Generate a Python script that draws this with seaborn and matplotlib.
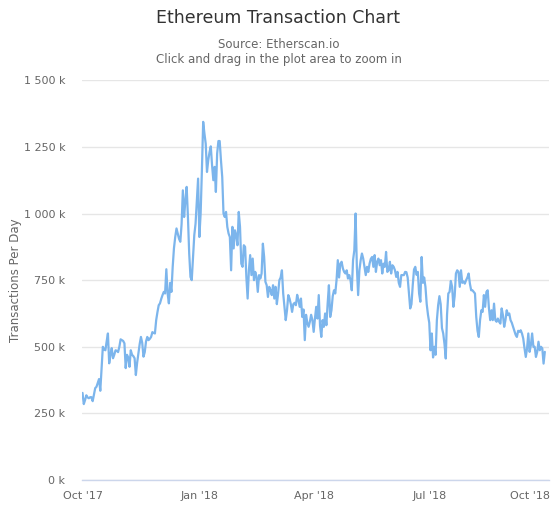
import pandas as pd
import numpy as np
import matplotlib
matplotlib.use('Agg')
import matplotlib.pyplot as plt
import matplotlib.transforms as mtransforms
import seaborn as sns

## Daily transactions (thousands), Oct 2017 - Sep 2018
start_date = '2017-10-01'
oct17 = [327, 285, 300, 318, 310, 307, 311, 311, 296, 320, 345, 350, 365, 379, 335, 420,
         500, 490, 487, 520, 550, 438, 470, 495, 457, 470, 487, 485, 480, 500, 528]
nov17 = [525, 522, 513, 420, 470, 460, 425, 487, 470, 465, 457, 394, 440, 475, 510,
         537, 515, 463, 480, 520, 537, 525, 530, 537, 555, 552, 550, 600, 630, 656]
dec17 = [663, 680, 694, 706, 700, 791, 700, 663, 740, 706, 800, 870, 912, 944, 925, 905,
         894, 960, 1087, 987, 1050, 1100, 987, 850, 762, 750, 837, 919, 962, 1050, 1131]
jan18 = [912, 1000, 1162, 1344, 1300, 1262, 1156, 1200, 1230, 1252, 1181, 1125, 1175, 1081,
         1225, 1272, 1272, 1200, 1137, 1000, 987, 1006, 950, 925, 912, 787, 950, 869, 937, 919, 881]
feb18 = [1006, 950, 812, 800, 881, 875, 762, 681, 787, 844, 769, 831, 750, 781,
         762, 706, 769, 756, 775, 887, 837, 744, 731, 687, 725, 712, 694, 731]
mar18 = [681, 725, 660, 700, 750, 760, 787, 700, 650, 600, 637, 694, 681, 660, 631, 660,
         665, 656, 695, 675, 650, 681, 612, 640, 525, 620, 590, 575, 594, 620, 600]
apr18 = [556, 606, 650, 606, 694, 580, 537, 600, 575, 625, 581, 662, 731, 612, 637,
         690, 712, 700, 750, 825, 760, 812, 819, 794, 781, 775, 787, 756, 769, 750]
may18 = [712, 825, 862, 1000, 800, 694, 787, 825, 850, 831, 800, 769, 800, 781, 812, 830,
         837, 800, 844, 781, 819, 831, 806, 825, 775, 812, 800, 856, 781, 787, 819]
jun18 = [775, 806, 800, 787, 762, 781, 740, 725, 769, 769, 769, 781, 780, 760, 700,
         644, 660, 731, 790, 800, 770, 781, 700, 669, 837, 740, 760, 725, 660, 620]
jul18 = [590, 487, 550, 460, 500, 470, 600, 656, 690, 660, 570, 550, 510, 456, 620, 700,
         706, 747, 725, 650, 690, 775, 787, 781, 725, 787, 740, 745, 737, 750, 760]
aug18 = [775, 737, 712, 712, 706, 700, 612, 560, 537, 600, 637, 631, 694, 650, 706, 712,
         644, 600, 637, 600, 662, 600, 594, 606, 594, 587, 644, 619, 575, 600, 637]
sep18 = [619, 625, 600, 590, 575, 560, 545, 537, 560, 556, 562, 550, 531, 494, 462,
         494, 550, 481, 506, 550, 500, 500, 462, 481, 519, 487, 500, 494, 437, 481]

tick_dates = ['2017-10-01', '2018-01-01', '2018-04-01', '2018-07-01', '2018-10-01']
tick_labels = ["Oct '17", "Jan '18", "Apr '18", "Jul '18", "Oct '18"]
y_ticks = [0, 250, 500, 750, 1000, 1250, 1500]

values = oct17 + nov17 + dec17 + jan18 + feb18 + mar18 + apr18 + may18 + jun18 + jul18 + aug18 + sep18
df = pd.DataFrame({'date': pd.date_range(start_date, periods=len(values), freq='D'),
                   'tx': values})

sns.set_style('white')
plt.rcParams['font.family'] = ['DejaVu Sans']

fig = plt.figure(figsize=(5.57, 5.08), dpi=100)
ax = fig.add_axes([0.147, 0.055, 0.838, 0.787])

sns.lineplot(data=df, x='date', y='tx', ax=ax, color='#7cb5ec', linewidth=1.6)

ax.set_ylim(0, 1500)
ax.set_yticks(y_ticks)
ax.set_yticklabels(['{:,} k'.format(v).replace(',', ' ') for v in y_ticks])
ax.set_xlim(pd.Timestamp('2017-09-30 12:00'), pd.Timestamp('2018-10-03'))
ax.set_xticks(pd.to_datetime(tick_dates))
ax.set_xticklabels(tick_labels)
ax.set_xlabel('')
ax.set_ylabel('')

ax.yaxis.grid(True, color='#e6e6e6', linewidth=1)
ax.set_axisbelow(True)
for s in ['top', 'right', 'left']:
    ax.spines[s].set_visible(False)
ax.spines['bottom'].set_color('#ccd6eb')
ax.spines['bottom'].set_linewidth(1)
ax.tick_params(axis='x', length=7, width=1, color='#ccd6eb', labelcolor='#666666',
               labelsize=8, pad=1)
ax.tick_params(axis='y', length=0, labelcolor='#666666', labelsize=8, pad=12)

# last x label is pulled inside the chart like the original
last = ax.get_xticklabels()[-1]
last.set_horizontalalignment('right')
last.set_transform(last.get_transform() + mtransforms.ScaledTranslation(4 / 100, 0, fig.dpi_scale_trans))

fig.text(0.5, 1 - 18 / 508, 'Ethereum Transaction Chart', ha='center', va='center',
         fontsize=12.5, color='#333333')
fig.text(0.5, 1 - 45 / 508, 'Source: Etherscan.io', ha='center', va='center',
         fontsize=8.5, color='#666666')
fig.text(0.5, 1 - 60 / 508, 'Click and drag in the plot area to zoom in', ha='center',
         va='center', fontsize=8.5, color='#666666')
fig.text(16 / 557, 1 - 280 / 508, 'Transactions Per Day', rotation=90, ha='center',
         va='center', fontsize=8.5, color='#666666')

fig.savefig('out.png', dpi=100)
